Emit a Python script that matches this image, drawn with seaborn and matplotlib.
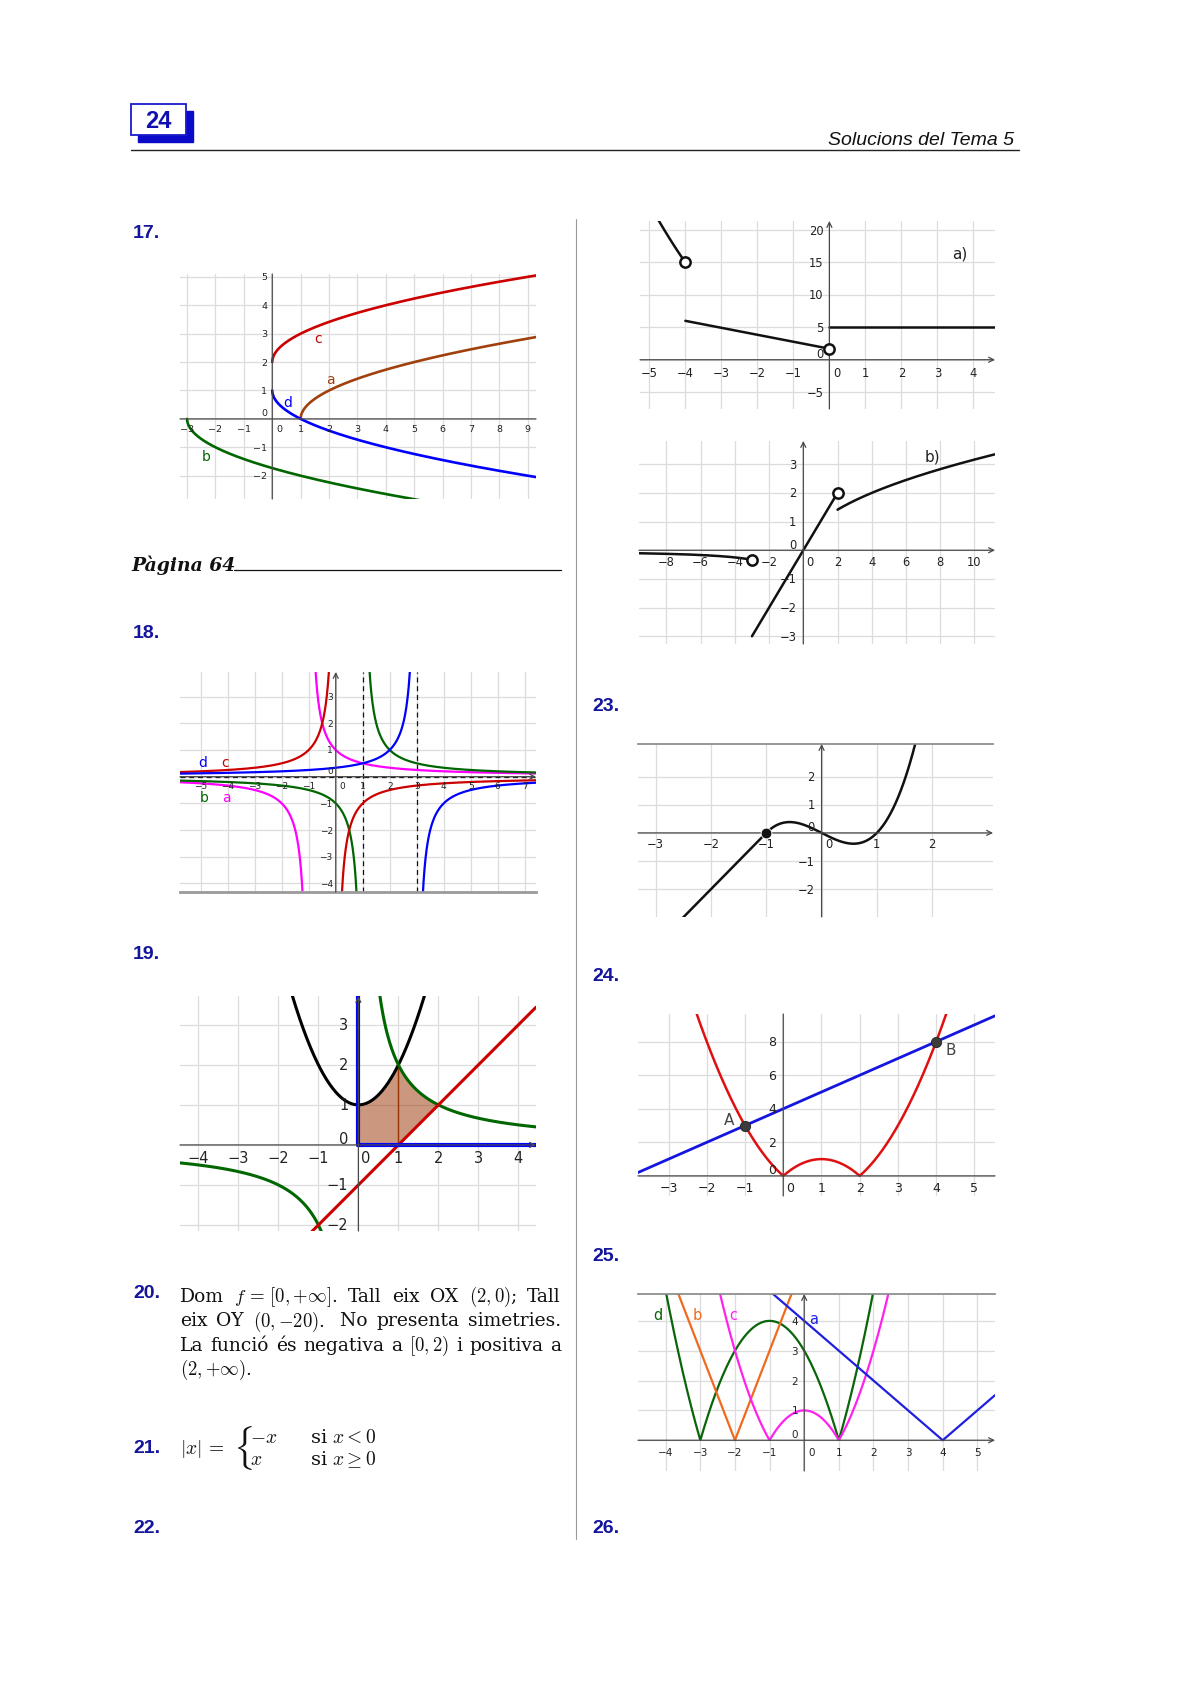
import numpy as np
import matplotlib
matplotlib.use('Agg')
import matplotlib.pyplot as plt
import seaborn as sns
from matplotlib.patches import Rectangle

# ---------------- dades llegides de la imatge ----------------

# 17: arrels
p17_xlim, p17_ylim = (-3.25, 9.29), (-2.82, 5.1)
p17_xticks = list(range(-3, 10))
p17_yticks = list(range(-2, 6))
p17_names = ['c', 'a', 'd', 'b']
p17_colors = ['#cc0000', '#a0410d', '#0000ff', '#006600']
p17_start = [0, 1, 0, -3]
p17_label_x = [1.62, 2.06, 0.53, -2.33]
p17_label_y = [2.84, 1.42, 0.61, -1.32]

# 18: hiperboles k/(x - p)
p18_xlim, p18_ylim = (-5.77, 7.42), (-4.32, 3.92)
p18_xticks = list(range(-5, 8))
p18_yticks = list(range(-4, 4))
p18_names = ['a', 'b', 'c', 'd']
p18_colors = ['#ff00ff', '#006600', '#cc0000', '#0000ff']
p18_k = [1, 1, -1, -1]
p18_p = [-1, 1, 0, 3]
p18_label_x = [-4.04, -4.86, -4.1, -4.94]
p18_label_y = [-0.75, -0.75, 0.56, 0.56]
p18_asymptotes = [1, 3]

# 19: recinte
p19_xlim, p19_ylim = (-4.46, 4.44), (-2.15, 3.72)
p19_xticks = list(range(-4, 5))
p19_yticks = list(range(-2, 4))

# 22 a)
pa_xlim, pa_ylim = (-5.26, 4.6), (-7.6, 21.4)
pa_xticks = list(range(-5, 5))
pa_yticks = [-5, 0, 5, 10, 15, 20]
pa_mid_x = [-4, 0]
pa_mid_y = [6, 1.7]
pa_const = 5
pa_open_x = [-4, 0]
pa_open_y = [15, 1.7]

# 22 b)
pb_xlim, pb_ylim = (-9.6, 11.2), (-3.27, 3.81)
pb_xticks = list(range(-8, 11, 2))
pb_yticks = list(range(-3, 4))
pb_open_x = [-3, 2]
pb_open_y = [-1 / 3, 2]

# 23
p23_xlim, p23_ylim = (-3.32, 3.1), (-2.99, 3.16)
p23_xticks = list(range(-3, 3))
p23_yticks = list(range(-2, 3))
p23_dot = (-1, 0)

# 24
p24_xlim, p24_ylim = (-3.8, 5.54), (-1.2, 9.65)
p24_xticks = list(range(-3, 6))
p24_yticks = [0, 2, 4, 6, 8]
p24_pts_x = [-1, 4]
p24_pts_y = [3, 8]
p24_pts_name = ['A', 'B']
p24_name_x = [-1.41, 4.37]
p24_name_y = [3.38, 7.56]

# 25: valors absoluts
p25_xlim, p25_ylim = (-4.8, 5.51), (-1.03, 4.9)
p25_xticks = list(range(-4, 6))
p25_yticks = list(range(0, 5))
p25_names = ['d', 'b', 'c', 'a']
p25_colors = ['#0a640a', '#f06a1e', '#ff22ee', '#1f1fe0']
p25_label_x = [-4.22, -3.08, -2.05, 0.28]
p25_label_y = [4.22, 4.22, 4.22, 4.08]

# ---------------- figura ----------------
sns.set_theme(style='white')
plt.rcParams['font.family'] = ['DejaVu Sans']
plt.rcParams['mathtext.fontset'] = 'cm'

W, H = 1190, 1683
fig = plt.figure(figsize=(W / 100, H / 100), dpi=100)
fig.patch.set_facecolor('white')

GRID = '#dcdcdc'
AXC = '#4a4a4a'
NUMC = '#14149c'
TXT = '#222222'


def ptext(x, y, s, **kw):
    return fig.text(x / W, 1 - y / H, s, **kw)


def minus(v):
    return str(v).replace('-', '\u2212')


def geo_axes(box, xlim, ylim, xgrid, ygrid, fs, xdy, ydx, arrows=True):
    x0, y0, x1, y1 = box
    ax = fig.add_axes([x0 / W, 1 - y1 / H, (x1 - x0) / W, (y1 - y0) / H])
    ax.set_facecolor('none')
    ax.set_xlim(xlim)
    ax.set_ylim(ylim)
    ax.set_xticks(xgrid)
    ax.set_yticks(ygrid)
    ax.grid(True, color=GRID, lw=0.9)
    ax.set_axisbelow(True)
    ax.tick_params(length=0, labelbottom=False, labelleft=False)
    for s in ax.spines.values():
        s.set_visible(False)
    st = '->' if arrows else '-'
    ap = dict(arrowstyle=st, color=AXC, lw=0.9, shrinkA=0, shrinkB=0, mutation_scale=9)
    ax.annotate('', xy=(xlim[1], 0), xytext=(xlim[0], 0), arrowprops=ap, annotation_clip=False)
    ax.annotate('', xy=(0, ylim[1]), xytext=(0, ylim[0]), arrowprops=ap, annotation_clip=False)
    for v in xgrid:
        dx = 7 if v == 0 else 0
        ax.annotate(minus(v), (v, 0), xytext=(dx, -xdy), textcoords='offset pixels',
                    ha='center', va='center', fontsize=fs, color=TXT)
    for v in ygrid:
        dy = 6 if v == 0 else 0
        ax.annotate(minus(v), (0, v), xytext=(-ydx, dy), textcoords='offset pixels',
                    ha='right', va='center', fontsize=fs, color=TXT)
    return ax


def curve(ax, x, y, color, lw=1.9, **kw):
    sns.lineplot(x=x, y=y, ax=ax, color=color, linewidth=lw, sort=False,
                 estimator=None, **kw)


def dense(a, b, n=400):
    t = np.linspace(0, 1, n)
    return a + (b - a) * t ** 2


# ---------------- capçalera ----------------
hax = fig.add_axes([0, 0, 1, 1])
hax.set_xlim(0, W)
hax.set_ylim(H, 0)
hax.axis('off')
hax.add_patch(Rectangle((138, 112), 55, 31, color='#0a0ac8', zorder=1))
hax.add_patch(Rectangle((131, 105), 55, 31, facecolor='white', edgecolor='#1a1acc', lw=1.3, zorder=2))
hax.text(158.5, 121, '24', ha='center', va='center', fontsize=17, fontweight='bold',
         color='#1010b0', family='Liberation Sans', zorder=3)
hax.text(1014, 145, 'Solucions del Tema 5', ha='right', va='baseline', fontsize=14,
         style='italic', family='Liberation Sans', color='#111111')
hax.plot([131, 1019], [151, 151], color='#222222', lw=1.0)
hax.plot([576, 576], [220, 1540], color='#9a9a9a', lw=0.8)

for s, x, y in [('17.', 133, 234), ('18.', 133, 634), ('19.', 133, 955), ('20.', 133, 1294),
                ('21.', 133, 1449), ('22.', 133, 1529), ('23.', 592, 707), ('24.', 592, 977),
                ('25.', 592, 1257), ('26.', 592, 1529)]:
    hax.text(x, y, s, ha='left', va='center', fontsize=14, fontweight='bold',
             color=NUMC, family='Liberation Sans')

hax.text(131, 571, 'Pàgina 64', ha='left', va='baseline', fontsize=13.5, fontweight='bold',
         style='italic', family='DejaVu Serif', color='#111111')
hax.plot([234, 561], [571, 571], color='#111111', lw=0.9)

# ---------------- 17 ----------------
ax = geo_axes((180, 275, 536, 500), p17_xlim, p17_ylim, p17_xticks, p17_yticks, 6.8, 10, 5, arrows=False)
x = dense(p17_start[0], p17_xlim[1])
curve(ax, x, 2 + np.sqrt(x), p17_colors[0])
x = dense(p17_start[1], p17_xlim[1])
curve(ax, x, np.sqrt(x - 1), p17_colors[1])
x = dense(p17_start[2], p17_xlim[1])
curve(ax, x, 1 - np.sqrt(x), p17_colors[2])
x = dense(p17_start[3], p17_xlim[1])
curve(ax, x, -np.sqrt(x + 3), p17_colors[3])
for n, c, lx, ly in zip(p17_names, p17_colors, p17_label_x, p17_label_y):
    ax.text(lx, ly, n, color=c, fontsize=10, ha='center', va='center')

# ---------------- 18 ----------------
ax = geo_axes((180, 673, 536, 893), p18_xlim, p18_ylim, p18_xticks, p18_yticks, 6.5, 9, 3)
ax.axhline(0, color='#111111', lw=0.9, ls=(0, (4, 3)), zorder=2)
for a in p18_asymptotes:
    ax.axvline(a, color='#111111', lw=0.9, ls=(0, (4, 3)), zorder=2)
ax.spines['bottom'].set_visible(True)
ax.spines['bottom'].set_color('#9a9a9a')
ax.spines['bottom'].set_linewidth(2)
for k, p, c in zip(p18_k, p18_p, p18_colors):
    xl = np.linspace(p18_xlim[0], p - 0.19, 400)
    xr = np.linspace(p + 0.19, p18_xlim[1], 400)
    curve(ax, xl, k / (xl - p), c, lw=1.6)
    curve(ax, xr, k / (xr - p), c, lw=1.6)
for n, c, lx, ly in zip(p18_names, p18_colors, p18_label_x, p18_label_y):
    ax.text(lx, ly, n, color=c, fontsize=10, ha='center', va='center')

# ---------------- 19 ----------------
ax = geo_axes((180, 997, 536, 1232), p19_xlim, p19_ylim, p19_xticks, p19_yticks, 10.5, 13, 10)
xs = np.linspace(0, 2, 300)
upper = np.minimum(xs ** 2 + 1, np.where(xs > 0, 2 / np.maximum(xs, 1e-9), 10))
lower = np.maximum(0, xs - 1)
ax.fill_between(xs, lower, upper, color='#993300', alpha=0.5, lw=0, zorder=2)
ax.plot([1, 1], [0, 2], color='#993300', lw=1.0, zorder=2)
x = np.linspace(-2.2, 2.2, 300)
curve(ax, x, x ** 2 + 1, '#000000', lw=2.2)
xl = np.linspace(p19_xlim[0], -0.4, 300)
xr = np.linspace(0.4, p19_xlim[1], 300)
curve(ax, xl, 2 / xl, '#006600', lw=2.2)
curve(ax, xr, 2 / xr, '#006600', lw=2.2)
x = np.array(p19_xlim)
curve(ax, x, x - 1, '#cc0000', lw=2.2)
curve(ax, np.array([0, 0]), np.array([0, p19_ylim[1]]), '#0000ff', lw=3)
curve(ax, np.array([0, p19_xlim[1]]), np.array([0, 0]), '#0000ff', lw=3)

# ---------------- 22 a) ----------------
ax = geo_axes((640, 222, 995, 410), pa_xlim, pa_ylim, pa_xticks, pa_yticks, 8.3, 13, 6)
x = np.linspace(-5.3, -4, 100)
curve(ax, x, x ** 2 - 1, '#111111', lw=1.8)
curve(ax, np.array(pa_mid_x), np.array(pa_mid_y), '#111111', lw=1.8)
curve(ax, np.array([0, pa_xlim[1]]), np.array([pa_const, pa_const]), '#111111', lw=1.8)
sns.scatterplot(x=pa_open_x, y=pa_open_y, ax=ax, s=55, facecolor='white',
                edgecolor='#111111', linewidth=1.8, zorder=5)
ax.text(3.63, 16.5, 'a)', fontsize=11, ha='center', va='center', color=TXT)

# ---------------- 22 b) ----------------
ax = geo_axes((639, 442, 995, 645), pb_xlim, pb_ylim, pb_xticks, pb_yticks, 8.3, 11, 7)
x = np.linspace(pb_xlim[0], -3, 200)
curve(ax, x, 1 / x, '#111111', lw=1.8)
curve(ax, np.array([-3, 2]), np.array([-3, 2]), '#111111', lw=1.8)
x = np.linspace(2, pb_xlim[1], 200)
curve(ax, x, np.sqrt(x), '#111111', lw=1.8)
sns.scatterplot(x=pb_open_x, y=pb_open_y, ax=ax, s=55, facecolor='white',
                edgecolor='#111111', linewidth=1.8, zorder=5)
ax.text(7.55, 3.29, 'b)', fontsize=11, ha='center', va='center', color=TXT)

# ---------------- 23 ----------------
ax = geo_axes((638, 745, 993, 918), p23_xlim, p23_ylim, p23_xticks, p23_yticks, 8.3, 11, 7)
ax.spines['top'].set_visible(True)
ax.spines['top'].set_color('#8a8a8a')
x = np.linspace(-3.5, -1, 50)
curve(ax, x, 2 * x + 2, '#111111', lw=1.8)
x = np.linspace(-1, 1.75, 300)
curve(ax, x, x ** 3 - x, '#111111', lw=1.8)
sns.scatterplot(x=[p23_dot[0]], y=[p23_dot[1]], ax=ax, s=60, color='#111111', zorder=5)

# ---------------- 24 ----------------
ax = geo_axes((638, 1015, 995, 1197), p24_xlim, p24_ylim, p24_xticks, p24_yticks, 9, 12, 7, arrows=False)
x = np.linspace(-2.6, 4.4, 500)
curve(ax, x, np.abs(x ** 2 - 2 * x), '#e01010', lw=1.8)
x = np.array(p24_xlim)
curve(ax, x, x + 4, '#1515e0', lw=2.0)
sns.scatterplot(x=p24_pts_x, y=p24_pts_y, ax=ax, s=55, color='#3c3c3c', edgecolor='#222222', zorder=5)
for n, lx, ly in zip(p24_pts_name, p24_name_x, p24_name_y):
    ax.text(lx, ly, n, fontsize=11, ha='center', va='center', color='#444444')

# ---------------- 25 ----------------
ax = geo_axes((638, 1295, 995, 1472), p25_xlim, p25_ylim, p25_xticks, p25_yticks, 7.5, 12, 6)
ax.spines['top'].set_visible(True)
ax.spines['top'].set_color('#8a8a8a')
x = np.linspace(p25_xlim[0], p25_xlim[1], 800)
curve(ax, x, np.abs(x ** 2 + 2 * x - 3), p25_colors[0], lw=1.6)
curve(ax, x, 3 * np.abs(x + 2), p25_colors[1], lw=1.6)
curve(ax, x, np.abs(x ** 2 - 1), p25_colors[2], lw=1.6)
curve(ax, x, np.abs(x - 4), p25_colors[3], lw=1.6)
for n, c, lx, ly in zip(p25_names, p25_colors, p25_label_x, p25_label_y):
    ax.text(lx, ly, n, color=c, fontsize=10.5, ha='center', va='center')

# ---------------- text 20 (justificat) ----------------
BODY = dict(fontsize=13.5, family='DejaVu Serif', color='#111111', va='baseline')
lines20 = [
    ['Dom', r'$f\,=\,[0,{+}\infty]$.', 'Tall', 'eix', 'OX', r'$(2,0)$;', 'Tall'],
    ['eix', 'OY', r'$(0,{-}20)$.', ' No', 'presenta', 'simetries.'],
    ['La', 'funció', 'és', 'negativa', 'a', r'$[0,2)$', 'i', 'positiva', 'a'],
    [r'$(2,{+}\infty)$.'],
]
base20 = [1302, 1326.5, 1351, 1375]
rend = fig.canvas.get_renderer()
for toks, yb in zip(lines20, base20):
    objs = [ptext(0, yb, t, **BODY) for t in toks]
    widths = [o.get_window_extent(rend).width for o in objs]
    if len(toks) > 1:
        gap = (561 - 180 - sum(widths)) / (len(toks) - 1)
    else:
        gap = 0
    xc = 180
    for o, w in zip(objs, widths):
        o.set_x(xc / W)
        xc += w + gap

# ---------------- 21 ----------------
MATH = dict(fontsize=14, color='#111111', va='center')
ptext(180, 1449, r'$|x|\,=$', **MATH)
ptext(233, 1448, r'$\{$', fontsize=27, color='#111111', va='center')
ptext(250, 1438, r'$-x$', **MATH)
ptext(250, 1460, r'$x$', **MATH)
ptext(310, 1438, r'si $x<0$', family='DejaVu Serif', **MATH)
ptext(310, 1460, r'si $x\geq 0$', family='DejaVu Serif', **MATH)

fig.savefig('out.png', dpi=100, facecolor='white')
